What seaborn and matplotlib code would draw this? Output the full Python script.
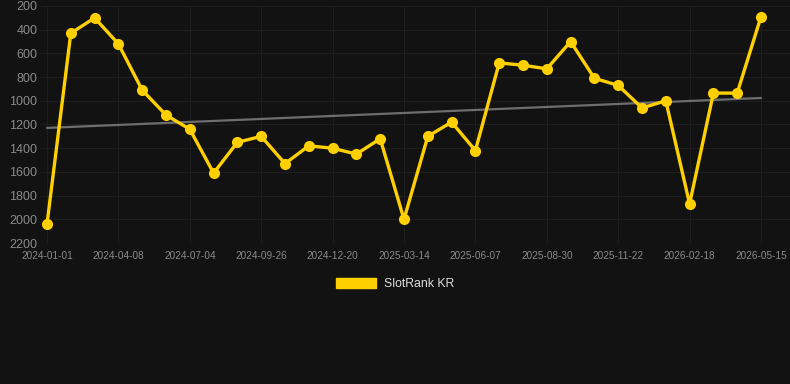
import numpy as np
import pandas as pd
import matplotlib
matplotlib.use("Agg")
import matplotlib.pyplot as plt
import seaborn as sns
from matplotlib.patches import Patch

# rank values, one per sample (lower is better, axis inverted)
ranks = [2040, 430, 300, 520, 910, 1120, 1240, 1610, 1350, 1300,
         1530, 1380, 1400, 1450, 1320, 2000, 1300, 1180, 1420, 680,
         700, 730, 500, 810, 870, 1060, 1000, 1870, 935, 935, 290]

# labels shown on every third sample
tick_dates = ["2024-01-01", "2024-04-08", "2024-07-04", "2024-09-26",
              "2024-12-20", "2025-03-14", "2025-06-07", "2025-08-30",
              "2025-11-22", "2026-02-18", "2026-05-15"]

y_ticks = [200, 400, 600, 800, 1000, 1200, 1400, 1600, 1800, 2000, 2200]

bg = "#121212"
gold = "#FFD000"

sns.set_theme(style="dark")
plt.rcParams['font.family'] = ['Liberation Sans', 'DejaVu Sans']

df = pd.DataFrame({"idx": np.arange(len(ranks)), "rank": ranks})

fig = plt.figure(figsize=(7.9, 3.84), dpi=100, facecolor=bg)
ax = fig.add_axes([40 / 790, 1 - 243 / 384, 750 / 790, 237 / 384])
ax.set_facecolor(bg)

# linear trend
coef = np.polyfit(df["idx"], df["rank"], 1)
df["trend"] = np.polyval(coef, df["idx"])
sns.lineplot(data=df, x="idx", y="trend", ax=ax, color="#6e6e6e", lw=1.6)

sns.lineplot(data=df, x="idx", y="rank", ax=ax, color=gold, lw=2.4,
             marker="o", markersize=8, markeredgewidth=0, markerfacecolor=gold)

ax.set_ylim(2200, 200)
ax.set_yticks(y_ticks)
ax.set_yticklabels([str(v) for v in y_ticks])
ax.set_xlim(-7 / 23.8, 30 + 29 / 23.8)
ax.set_xticks(np.arange(0, len(ranks), 3))
ax.set_xticklabels(tick_dates)

ax.grid(True, color="#1e1e1e", lw=0.8)
for s in ax.spines.values():
    s.set_visible(False)
ax.tick_params(axis="y", colors="#8a8a8a", labelsize=9, length=0, pad=2)
ax.tick_params(axis="x", colors="#8a8a8a", labelsize=7.2, length=0, pad=6)
ax.set_xlabel("")
ax.set_ylabel("")

handle = Patch(facecolor=gold, edgecolor=gold)
leg = fig.legend([handle], ["SlotRank KR"], loc="center", bbox_to_anchor=(0.5, 1 - 284 / 384),
                 frameon=False, fontsize=8.8, handlelength=3.3, handleheight=0.9,
                 handletextpad=0.6)
for t in leg.get_texts():
    t.set_color("#dddddd")

fig.savefig("out.png", dpi=100, facecolor=bg)
